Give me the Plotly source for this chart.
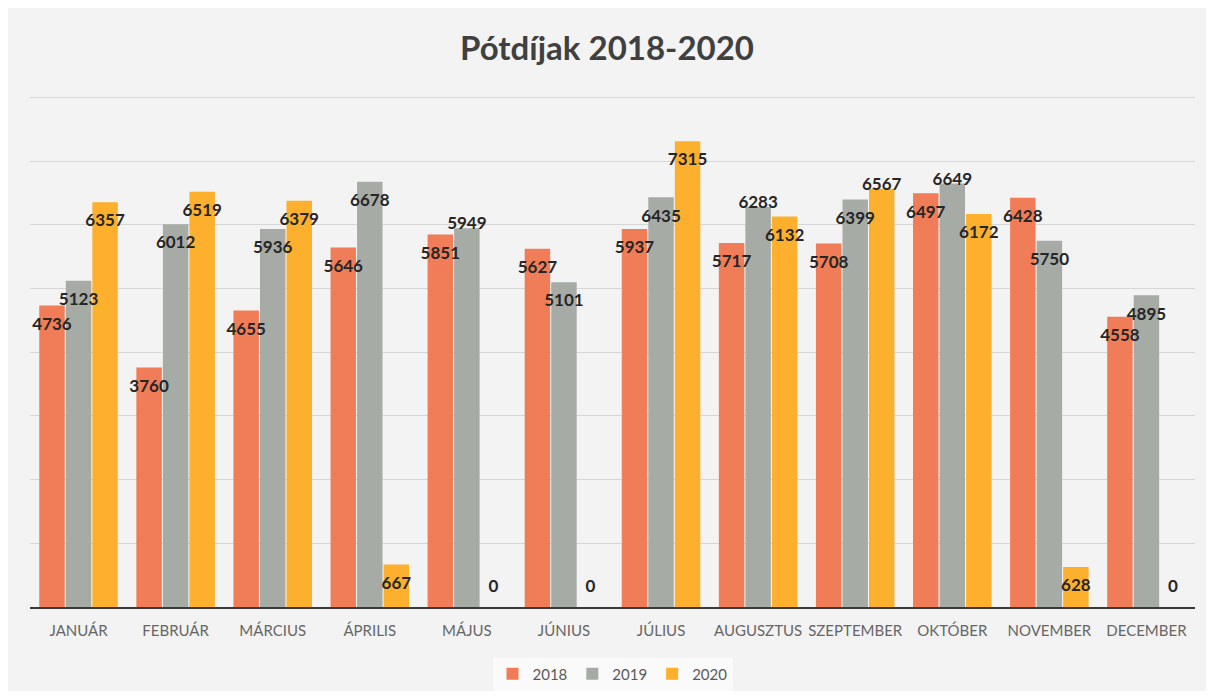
import numpy as np
import plotly.graph_objects as go

months = ["JANUÁR", "FEBRUÁR", "MÁRCIUS", "ÁPRILIS", "MÁJUS", "JÚNIUS",
          "JÚLIUS", "AUGUSZTUS", "SZEPTEMBER", "OKTÓBER", "NOVEMBER", "DECEMBER"]
series_names = ["2018", "2019", "2020"]
v2018 = [4736, 3760, 4655, 5646, 5851, 5627, 5937, 5717, 5708, 6497, 6428, 4558]
v2019 = [5123, 6012, 5936, 6678, 5949, 5101, 6435, 6283, 6399, 6649, 5750, 4895]
v2020 = [6357, 6519, 6379, 667, 0, 0, 7315, 6132, 6567, 6172, 628, 0]
colors = ["#F07D57", "#A6ABA6", "#FDB02E"]

values = [v2018, v2019, v2020]
x = np.arange(len(months))

BARGAP = 0.18
GROUPGAP = 0.04
slot = (1 - BARGAP) / 3
LABEL_DROP = 315    # label centre sits a little below the bar top
LABEL_LIFT = 50     # label nudged to the bar top when it would collide
LABEL_MIN = 300
CLOSE = 250

# decide which labels get lifted to avoid colliding with a neighbour
lifted = [[False] * len(months) for _ in values]
for i in range(len(months)):
    for k in range(len(values) - 1):
        a, b = values[k][i], values[k + 1][i]
        if a > 0 and b > 0 and abs(a - b) < CLOSE:
            if a >= b:
                lifted[k][i] = True
            else:
                lifted[k + 1][i] = True

W, H = 1198, 683   # page body adds an 8px margin around the figure

fig = go.Figure()
for name, vals, col in zip(series_names, values, colors):
    fig.add_trace(go.Bar(
        x=x, y=vals, name=name, marker_color=col, marker_line_width=0,
        hoverinfo="y+name",
    ))
for k, vals in enumerate(values):
    xs = x + (k - 1) * slot
    ys = []
    for i, v in enumerate(vals):
        if lifted[k][i]:
            ys.append(v + LABEL_LIFT)
        else:
            ys.append(max(v - LABEL_DROP, LABEL_MIN))
    fig.add_trace(go.Scatter(
        x=xs, y=ys, mode="text", text=[str(v) for v in vals],
        textposition="middle center",
        textfont=dict(family="Lato", size=17, color="#262626", weight="bold"),
        showlegend=False, hoverinfo="skip", cliponaxis=False,
    ))

fig.update_layout(
    width=W, height=H,
    barmode="group", bargap=BARGAP, bargroupgap=GROUPGAP,
    paper_bgcolor="#f3f3f3", plot_bgcolor="#f3f3f3",
    margin=dict(l=22, r=11, t=87, b=84, autoexpand=False),
    title=dict(text="<b>Pótdíjak 2018-2020</b>", x=0.5, xanchor="center",
               y=1 - 40 / H, yanchor="middle",
               font=dict(family="Lato", size=33, color="#404040")),
    xaxis=dict(tickmode="array", tickvals=x, ticktext=months,
               range=[-0.5, len(months) - 0.5], tickangle=0,
               showline=True, linecolor="#3a3a3a", linewidth=2,
               showgrid=False, zeroline=False,
               ticks="outside", ticklen=9, tickcolor="rgba(0,0,0,0)",
               tickfont=dict(family="Lato", size=15, color="#666666")),
    yaxis=dict(range=[0, 8040], tickmode="linear", tick0=0, dtick=1000,
               showticklabels=False,
               showgrid=True, gridcolor="#d6d6d6", gridwidth=1,
               zeroline=False, showline=False),
    legend=dict(orientation="h", x=0.5, xanchor="center", y=-0.131,
                yanchor="middle", bgcolor="rgba(255,255,255,0.6)",
                font=dict(family="Lato", size=15, color="#595959"),
                itemwidth=30, tracegroupgap=0),
    font=dict(family="Lato"),
)

fig.write_html("out.html")
